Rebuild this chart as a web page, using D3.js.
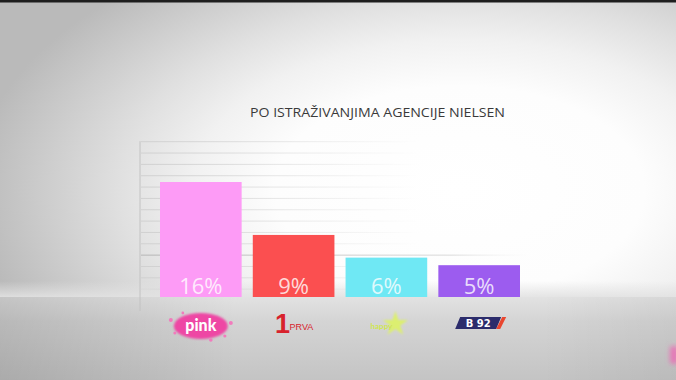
<!DOCTYPE html>
<html lang="sr">
  <head>
    <meta charset="UTF-8" />
    <title>Po istraživanjima agencije Nielsen</title>
    <script src="https://d3js.org/d3.v7.min.js"></script>
    <style>
      body {
        margin: 0;
        background: #c8c8c8;
      }
      svg {
        display: block;
      }
      .title {
        font-family: "Open Sans", sans-serif;
        font-size: 13.5px;
        fill: #3a3a3a;
      }
      .value {
        font-family: "Open Sans", sans-serif;
        font-size: 22px;
        fill: #ffffff;
        fill-opacity: 0.8;
      }
    </style>
  </head>
  <body>
    <svg id="chart" width="676" height="380"></svg>
    <script>
      // data
      let channels = ["Pink", "Prva", "Happy", "B92"];
      let shares = [16, 9, 6, 5];
      let barColors = ["#fd9bf6", "#fb4f50", "#6fe8f4", "#9c5cef"];
      let gridValues = [1.5, 3, 4.5, 6, 7.5, 9, 10.5, 12, 13.5, 15, 16.5, 18, 19.5, 21];
      let title = "PO ISTRAŽIVANJIMA AGENCIJE NIELSEN";

      let width = 676;
      let height = 380;
      let floorY = 297;
      let svg = d3.select("#chart");
      let defs = svg.append("defs");

      function gradient(id, kind, attrs, stops) {
        let g = defs.append(kind).attr("id", id);
        Object.keys(attrs).forEach((k) => g.attr(k, attrs[k]));
        stops.forEach(function (s) {
          g.append("stop").attr("offset", s[0]).attr("stop-color", s[1])
            .attr("stop-opacity", s[2] === undefined ? 1 : s[2]);
        });
      }

      // background light
      gradient("bg", "radialGradient", { cx: 0.68, cy: 0.5, r: 0.72 }, [
        [0, "#ffffff"], [0.38, "#fdfdfd"], [0.55, "#f1f1f1"], [0.7, "#e0e0e0"],
        [0.85, "#cdcdcd"], [1, "#bababa"],
      ]);
      gradient("floorV", "linearGradient", { x1: 0, x2: 0, y1: 0, y2: 1 }, [
        [0, "#e2e2e2"], [0.3, "#d4d4d4"], [1, "#c4c4c4"],
      ]);
      gradient("floorH", "linearGradient", { x1: 0, x2: 1, y1: 0, y2: 0 }, [
        [0, "#000000", 0.13], [0.35, "#000000", 0], [0.8, "#000000", 0], [1, "#000000", 0.05],
      ]);
      gradient("horizon", "linearGradient", { x1: 0, x2: 0, y1: 0, y2: 1 }, [
        [0, "#e2e2e2", 0], [1, "#e2e2e2", 0.9],
      ]);
      gradient("gridFade", "linearGradient",
        { gradientUnits: "userSpaceOnUse", x1: 140, x2: 420, y1: 0, y2: 0 },
        [[0, "#d0d0d0"], [1, "#d0d0d0", 0]]);
      gradient("gridMain", "linearGradient",
        { gradientUnits: "userSpaceOnUse", x1: 140, x2: 530, y1: 0, y2: 0 },
        [[0, "#b5b5b5"], [0.8, "#dadada"], [1, "#eeeeee", 0]]);

      defs.append("filter").attr("id", "blur")
        .append("feGaussianBlur").attr("stdDeviation", 1.2);
      defs.append("filter").attr("id", "blurBig")
        .attr("x", -1).attr("y", -1).attr("width", 3).attr("height", 3)
        .append("feGaussianBlur").attr("stdDeviation", 2.5);

      svg.append("rect").attr("width", width).attr("height", height).attr("fill", "url(#bg)");
      svg.append("rect").attr("width", width).attr("height", 2.5).attr("fill", "#1e1e1e");

      // scales
      let x = d3.scaleBand().domain(channels).range([160, 520]).paddingInner(0.12).paddingOuter(0);
      let y = d3.scaleLinear().domain([0, 16]).range([303, 182]);

      svg.append("text").attr("class", "title")
        .attr("x", 250).attr("y", 117)
        .attr("textLength", 255).attr("lengthAdjust", "spacingAndGlyphs")
        .text(title);

      // faint grid
      svg.append("g").selectAll("line")
        .data(gridValues)
        .join("line")
        .attr("x1", 141)
        .attr("x2", (d) => (d === 6 ? 530 : 420))
        .attr("y1", (d) => y(d) - 2.5)
        .attr("y2", (d) => y(d) - 2.5)
        .attr("stroke", (d) => (d === 6 ? "url(#gridMain)" : "url(#gridFade)"))
        .attr("stroke-width", 1);

      // soft horizon behind the bars
      svg.append("rect").attr("x", 0).attr("y", floorY - 16)
        .attr("width", width).attr("height", 16).attr("fill", "url(#horizon)");

      // bars
      let data = channels.map((c, i) => ({ channel: c, share: shares[i], color: barColors[i] }));
      svg.append("g").selectAll("rect")
        .data(data)
        .join("rect")
        .attr("x", (d) => x(d.channel))
        .attr("y", (d) => y(d.share))
        .attr("width", x.bandwidth())
        .attr("height", (d) => y(0) - y(d.share))
        .attr("fill", (d) => d.color);

      // floor hides bar feet
      svg.append("rect").attr("x", 0).attr("y", floorY)
        .attr("width", width).attr("height", height - floorY).attr("fill", "url(#floorV)");
      svg.append("rect").attr("x", 0).attr("y", floorY)
        .attr("width", width).attr("height", height - floorY).attr("fill", "url(#floorH)");

      // axis line
      svg.append("line")
        .attr("x1", 140).attr("x2", 140)
        .attr("y1", y(21) - 3).attr("y2", 311)
        .attr("stroke", "#c2c2c2").attr("stroke-width", 1);

      // value labels
      svg.append("g").selectAll("text")
        .data(data)
        .join("text")
        .attr("class", "value")
        .attr("x", (d) => x(d.channel) + x.bandwidth() / 2)
        .attr("y", floorY - 3)
        .attr("text-anchor", "middle")
        .text((d) => d.share + "%");

      // channel logos as category labels
      let logoY = 326;
      let logos = svg.append("g");
      channels.forEach(function (c) {
        let cx = x(c) + x.bandwidth() / 2;
        let g = logos.append("g").attr("transform", `translate(${cx},${logoY})`);
        if (c === "Pink") {
          g.append("ellipse").attr("rx", 27).attr("ry", 13)
            .attr("fill", "#ee46a4").attr("filter", "url(#blur)");
          [[-30, -6, 2], [-26, 7, 1.5], [30, -3, 2], [24, 10, 1.6], [-18, -13, 1.4], [10, 14, 1.8]].forEach(function (p) {
            g.append("circle").attr("cx", p[0]).attr("cy", p[1]).attr("r", p[2])
              .attr("fill", "#f27bbd");
          });
          g.append("text").attr("y", 5).attr("text-anchor", "middle")
            .attr("font-family", "Lato, sans-serif").attr("font-weight", 900)
            .attr("font-size", 16).attr("fill", "#ffffff").text("pink");
        } else if (c === "Prva") {
          g.append("text").attr("x", -11).attr("y", 7).attr("text-anchor", "middle")
            .attr("font-family", "Liberation Sans Narrow, Liberation Sans, sans-serif").attr("font-weight", 700)
            .attr("font-size", 27).attr("fill", "#d8222c").text("1");
          g.append("text").attr("x", -4).attr("y", 4)
            .attr("font-family", "Liberation Sans, sans-serif")
            .attr("font-size", 9).attr("fill", "#d8222c").text("PRVA");
        } else if (c === "Happy") {
          g.append("path")
            .attr("d", d3.symbol(d3.symbolStar, 200)())
            .attr("transform", "translate(9,-2)")
            .attr("fill", "#dcef70").attr("filter", "url(#blur)");
          g.append("text").attr("x", -5).attr("y", 3).attr("text-anchor", "middle")
            .attr("font-family", "Lato, sans-serif").attr("font-weight", 700)
            .attr("font-size", 8).attr("fill", "#cfe64f").text("happy");
        } else {
          g.append("path").attr("d", "M-19,-9 L22,-9 L17,3 L-24,3 Z").attr("fill", "#2c2c6b");
          g.append("path").attr("d", "M23,-9 L27,-9 L21,3 L17,3 Z").attr("fill", "#e9462f");
          g.append("text").attr("x", -1).attr("y", 1).attr("text-anchor", "middle")
            .attr("font-family", "DejaVu Sans, sans-serif").attr("font-weight", 700)
            .attr("font-size", 10).attr("fill", "#ffffff").text("B 92");
        }
      });

      // corner bug of the tv station
      svg.append("rect").attr("x", 670).attr("y", 346).attr("width", 8).attr("height", 18)
        .attr("rx", 3).attr("fill", "#f064b4").attr("fill-opacity", 0.8).attr("filter", "url(#blurBig)");
    </script>
  </body>
</html>
